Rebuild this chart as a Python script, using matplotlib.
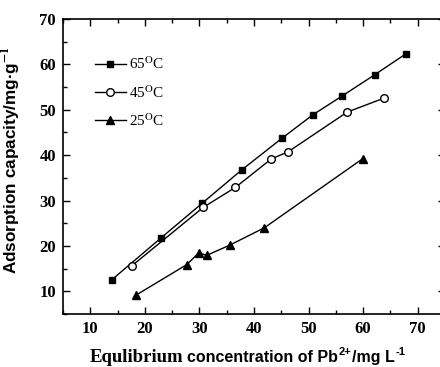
import matplotlib
matplotlib.use("Agg")
import matplotlib.pyplot as plt
from matplotlib.ticker import MultipleLocator
from matplotlib.transforms import IdentityTransform

plt.rcParams['mathtext.fontset'] = 'stix'

x65 = [14.0, 23.0, 30.5, 37.8, 45.1, 50.8, 56.1, 62.1, 67.8]
y65 = [12.6, 21.8, 29.4, 36.8, 43.7, 48.9, 53.0, 57.7, 62.3]
x45 = [17.6, 30.7, 36.6, 43.2, 46.2, 57.1, 63.9]
y45 = [15.6, 28.5, 32.9, 39.2, 40.7, 49.5, 52.6]
x25 = [18.3, 27.7, 29.9, 31.3, 35.6, 41.9, 59.9]
y25 = [9.1, 15.9, 18.5, 17.9, 20.2, 24.0, 39.2]
labels = ["65$^{\\mathrm{O}}$C", "45$^{\\mathrm{O}}$C", "25$^{\\mathrm{O}}$C"]

W, H = 440, 367
fig = plt.figure(figsize=(4.4, 3.67), dpi=100)
ax = fig.add_axes([63/W, 1-314/H, 382/W, 295/H])

ax.plot(x65, y65, '-s', color='black', lw=1, ms=5, mfc='black', label=labels[0])
ax.plot(x45, y45, '-o', color='black', lw=1, ms=5.5, mfc='white', label=labels[1])
ax.plot(x25, y25, '-^', color='black', lw=1, ms=6, mfc='black', label=labels[2])

ax.set_xlim(5, 75)
ax.set_ylim(5, 70)
ax.xaxis.set_major_locator(MultipleLocator(10))
ax.xaxis.set_minor_locator(MultipleLocator(5))
ax.yaxis.set_major_locator(MultipleLocator(10))
ax.yaxis.set_minor_locator(MultipleLocator(5))
ax.tick_params(which='both', direction='in', top=True, right=True, width=1)
ax.tick_params(which='major', length=5, pad=5)
ax.tick_params(which='minor', length=3)
for lab in ax.get_xticklabels() + ax.get_yticklabels():
    lab.set_fontfamily('Liberation Serif')
    lab.set_fontweight('bold')
    lab.set_fontsize(12)
for s in ax.spines.values():
    s.set_linewidth(1.2)

ax.set_ylabel("Adsorption capacity/mg\u00b7g$^{\\mathbf{-1}}$", fontfamily='Liberation Sans',
              fontweight='bold', fontsize=12.3)
ax.yaxis.set_label_coords(-(63-15-8)/382, (314-160)/295)

leg = ax.legend(frameon=False, loc='upper left', bbox_to_anchor=(0.084, 0.875),
                borderpad=0, borderaxespad=0, handlelength=2.0, handletextpad=0.2,
                labelspacing=0.75, prop={'family': 'Liberation Serif', 'size': 11})

# x label: serif first word, sans remainder, manual superscripts
renderer = fig.canvas.get_renderer()
base = H - 362  # baseline in display pixels (from bottom)
idt = IdentityTransform()
sans = dict(fontfamily='Liberation Sans', fontweight='bold', va='baseline', ha='left')
fig.text(183, base, "Equlibrium", ha='right', va='baseline', transform=idt,
         fontfamily='Liberation Serif', fontweight='bold', fontsize=13.5)
x = 187
pieces = [("concentration of Pb", 11.5, 0), ("2+", 8, 7), ("/mg L", 11.5, 0), ("-1", 8, 7)]
for txt, size, dy in pieces:
    t = fig.text(x, base + dy, txt, transform=idt, fontsize=size, **sans)
    bb = t.get_window_extent(renderer)
    x = bb.x1 + (1 if size < 10 else 0.5)

fig.savefig("out.png", dpi=100)
